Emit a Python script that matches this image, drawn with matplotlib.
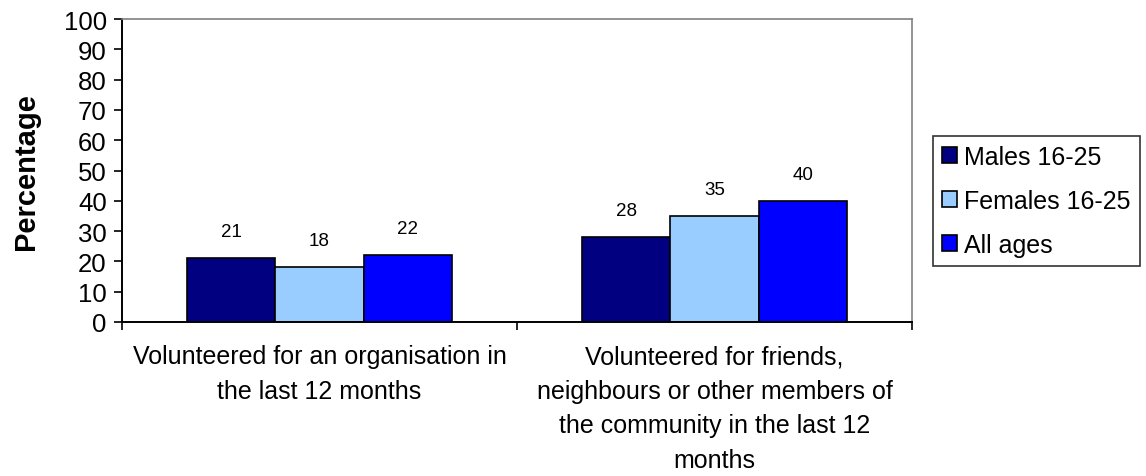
import numpy as np
import matplotlib.pyplot as plt
from matplotlib.patches import Patch

plt.rcParams['font.family'] = ['Liberation Sans', 'DejaVu Sans']

categories = ["Volunteered for an organisation in\nthe last 12 months",
              "Volunteered for friends,\nneighbours or other members of\nthe community in the last 12\nmonths"]
series_names = ["Males 16-25", "Females 16-25", "All ages"]
males = [21, 28]
females = [18, 35]
all_ages = [22, 40]
colors = ['#000080', '#99CCFF', '#0000FF']

fig = plt.figure(figsize=(11.46, 4.77), dpi=100)
ax = fig.add_axes([0.1065, 0.3229, 0.6893, 0.6351])

x = np.arange(len(categories))
w = 0.67 / 3
for i, vals in enumerate([males, females, all_ages]):
    bars = ax.bar(x + (i - 1) * w, vals, w, color=colors[i], edgecolor='black', linewidth=1.2)
    for b, v in zip(bars, vals):
        ax.annotate(str(v), (b.get_x() + b.get_width() / 2, v), xytext=(0, 13),
                    textcoords='offset points', ha='center', va='bottom', fontsize=13.5)

ax.set_xlim(-0.5, 1.5)
ax.set_ylim(0, 100)
ax.set_yticks(range(0, 101, 10))
ax.tick_params(axis='y', labelsize=18.5, length=6, width=1.2, direction='out', pad=5)
ax.set_xticks([-0.5, 0.5, 1.5])
ax.set_xticklabels([])
ax.tick_params(axis='x', length=6, width=1.2, direction='out')
ax.set_xticks(x, minor=True)
ax.set_xticklabels(categories, minor=True, fontsize=18, linespacing=1.55)
ax.tick_params(axis='x', which='minor', length=0, pad=16)

ax.spines['left'].set_linewidth(1.4)
ax.spines['bottom'].set_linewidth(1.4)
ax.spines['top'].set_color('#808080')
ax.spines['right'].set_color('#808080')
ax.spines['top'].set_linewidth(1.2)
ax.spines['right'].set_linewidth(1.2)

ax.set_ylabel("Percentage", fontsize=21, fontweight='bold')
ax.yaxis.set_label_coords(-0.104, 0.5)

handles = [Patch(facecolor=c, edgecolor='black', linewidth=1.2) for c in colors]
leg = fig.legend(handles, series_names, loc='upper left', bbox_to_anchor=(933 / 1146, 1 - 137 / 477),
                 fontsize=18, frameon=True, fancybox=False, edgecolor='black',
                 handlelength=0.6, handleheight=0.6, handletextpad=0.3,
                 labelspacing=0.8, borderpad=0.35, borderaxespad=0)
leg.get_frame().set_linewidth(1.2)

fig.savefig("out.png", dpi=100)
